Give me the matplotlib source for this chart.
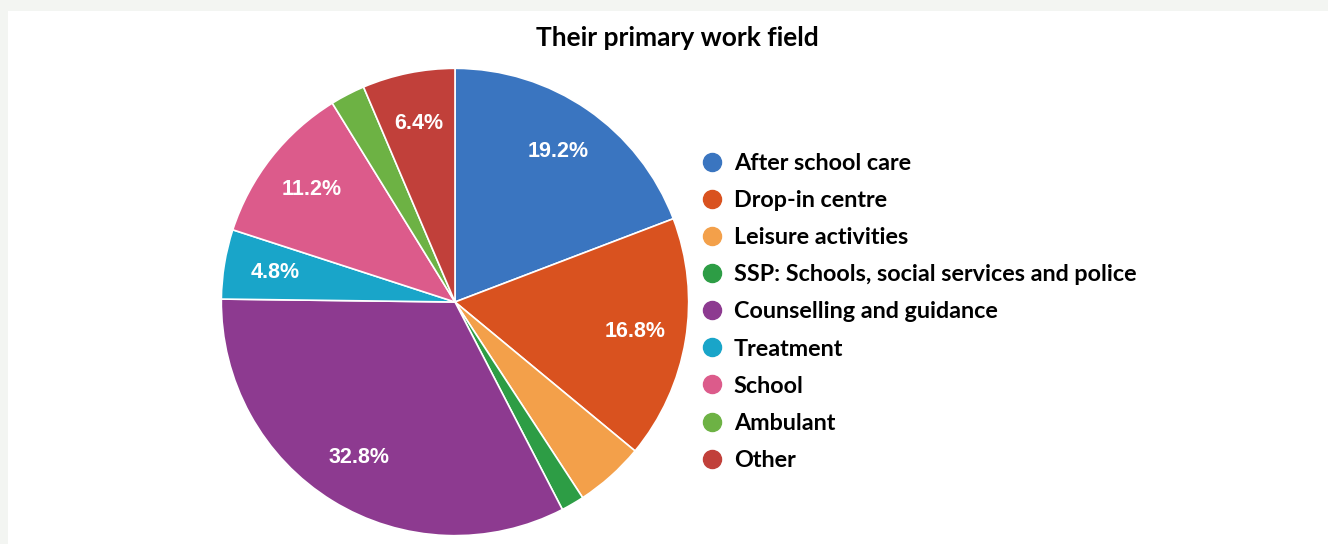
import matplotlib.pyplot as plt
from matplotlib.patches import Rectangle
from matplotlib.lines import Line2D

categories = ['After school care', 'Drop-in centre', 'Leisure activities',
              'SSP: Schools, social services and police', 'Counselling and guidance',
              'Treatment', 'School', 'Ambulant', 'Other']
shares = [19.2, 16.8, 4.8, 1.6, 32.8, 4.8, 11.2, 2.4, 6.4]
show_pct = [True, True, False, False, True, True, True, False, True]
colors = ['#3a75c0', '#d9521f', '#f3a04a', '#2d9d45', '#8d3a90',
          '#19a5c9', '#dc5b8b', '#6db244', '#c1403a']

W, H = 1328, 544
fig = plt.figure(figsize=(W / 100, H / 100), dpi=100, facecolor='#f3f5f2')
# white panel inside the light grey frame
fig.patches.append(Rectangle((8 / W, 0), 1 - 8 / W, (H - 11) / H,
                             transform=fig.transFigure, facecolor='white',
                             edgecolor='none', zorder=-5))

cx, cy, r = 455, 302, 236
ax = fig.add_axes([(cx - r) / W, (H - cy - r) / H, 2 * r / W, 2 * r / H])
wedges, texts, autotexts = ax.pie(
    shares, colors=colors, startangle=90, counterclock=False, radius=1,
    autopct='%.1f%%', pctdistance=0.78,
    wedgeprops=dict(edgecolor='white', linewidth=1.2),
    textprops=dict(color='white', fontsize=15.5, fontweight='bold', family='Liberation Sans'))
for t, show in zip(autotexts, show_pct):
    if not show:
        t.set_text('')
ax.set_xlim(-1.01, 1.01)
ax.set_ylim(-1.01, 1.01)
ax.set_aspect('equal')
ax.axis('off')

fig.text(677 / W, 1 - 38 / H, 'Their primary work field', ha='center', va='center',
         fontsize=19, fontweight='bold', family='Lato')

handles = [Line2D([], [], marker='o', linestyle='none', markersize=13,
                  markerfacecolor=c, markeredgecolor=c) for c in colors]
leg = fig.legend(handles, categories, loc='upper left',
                 bbox_to_anchor=(679 / W, 1 - 132 / H), frameon=False,
                 handletextpad=0.45, labelspacing=0.69, handlelength=1.0,
                 prop=dict(family='Lato', weight='bold', size=16.8))

plt.savefig('out.png', dpi=100, facecolor=fig.get_facecolor())
plt.close()
